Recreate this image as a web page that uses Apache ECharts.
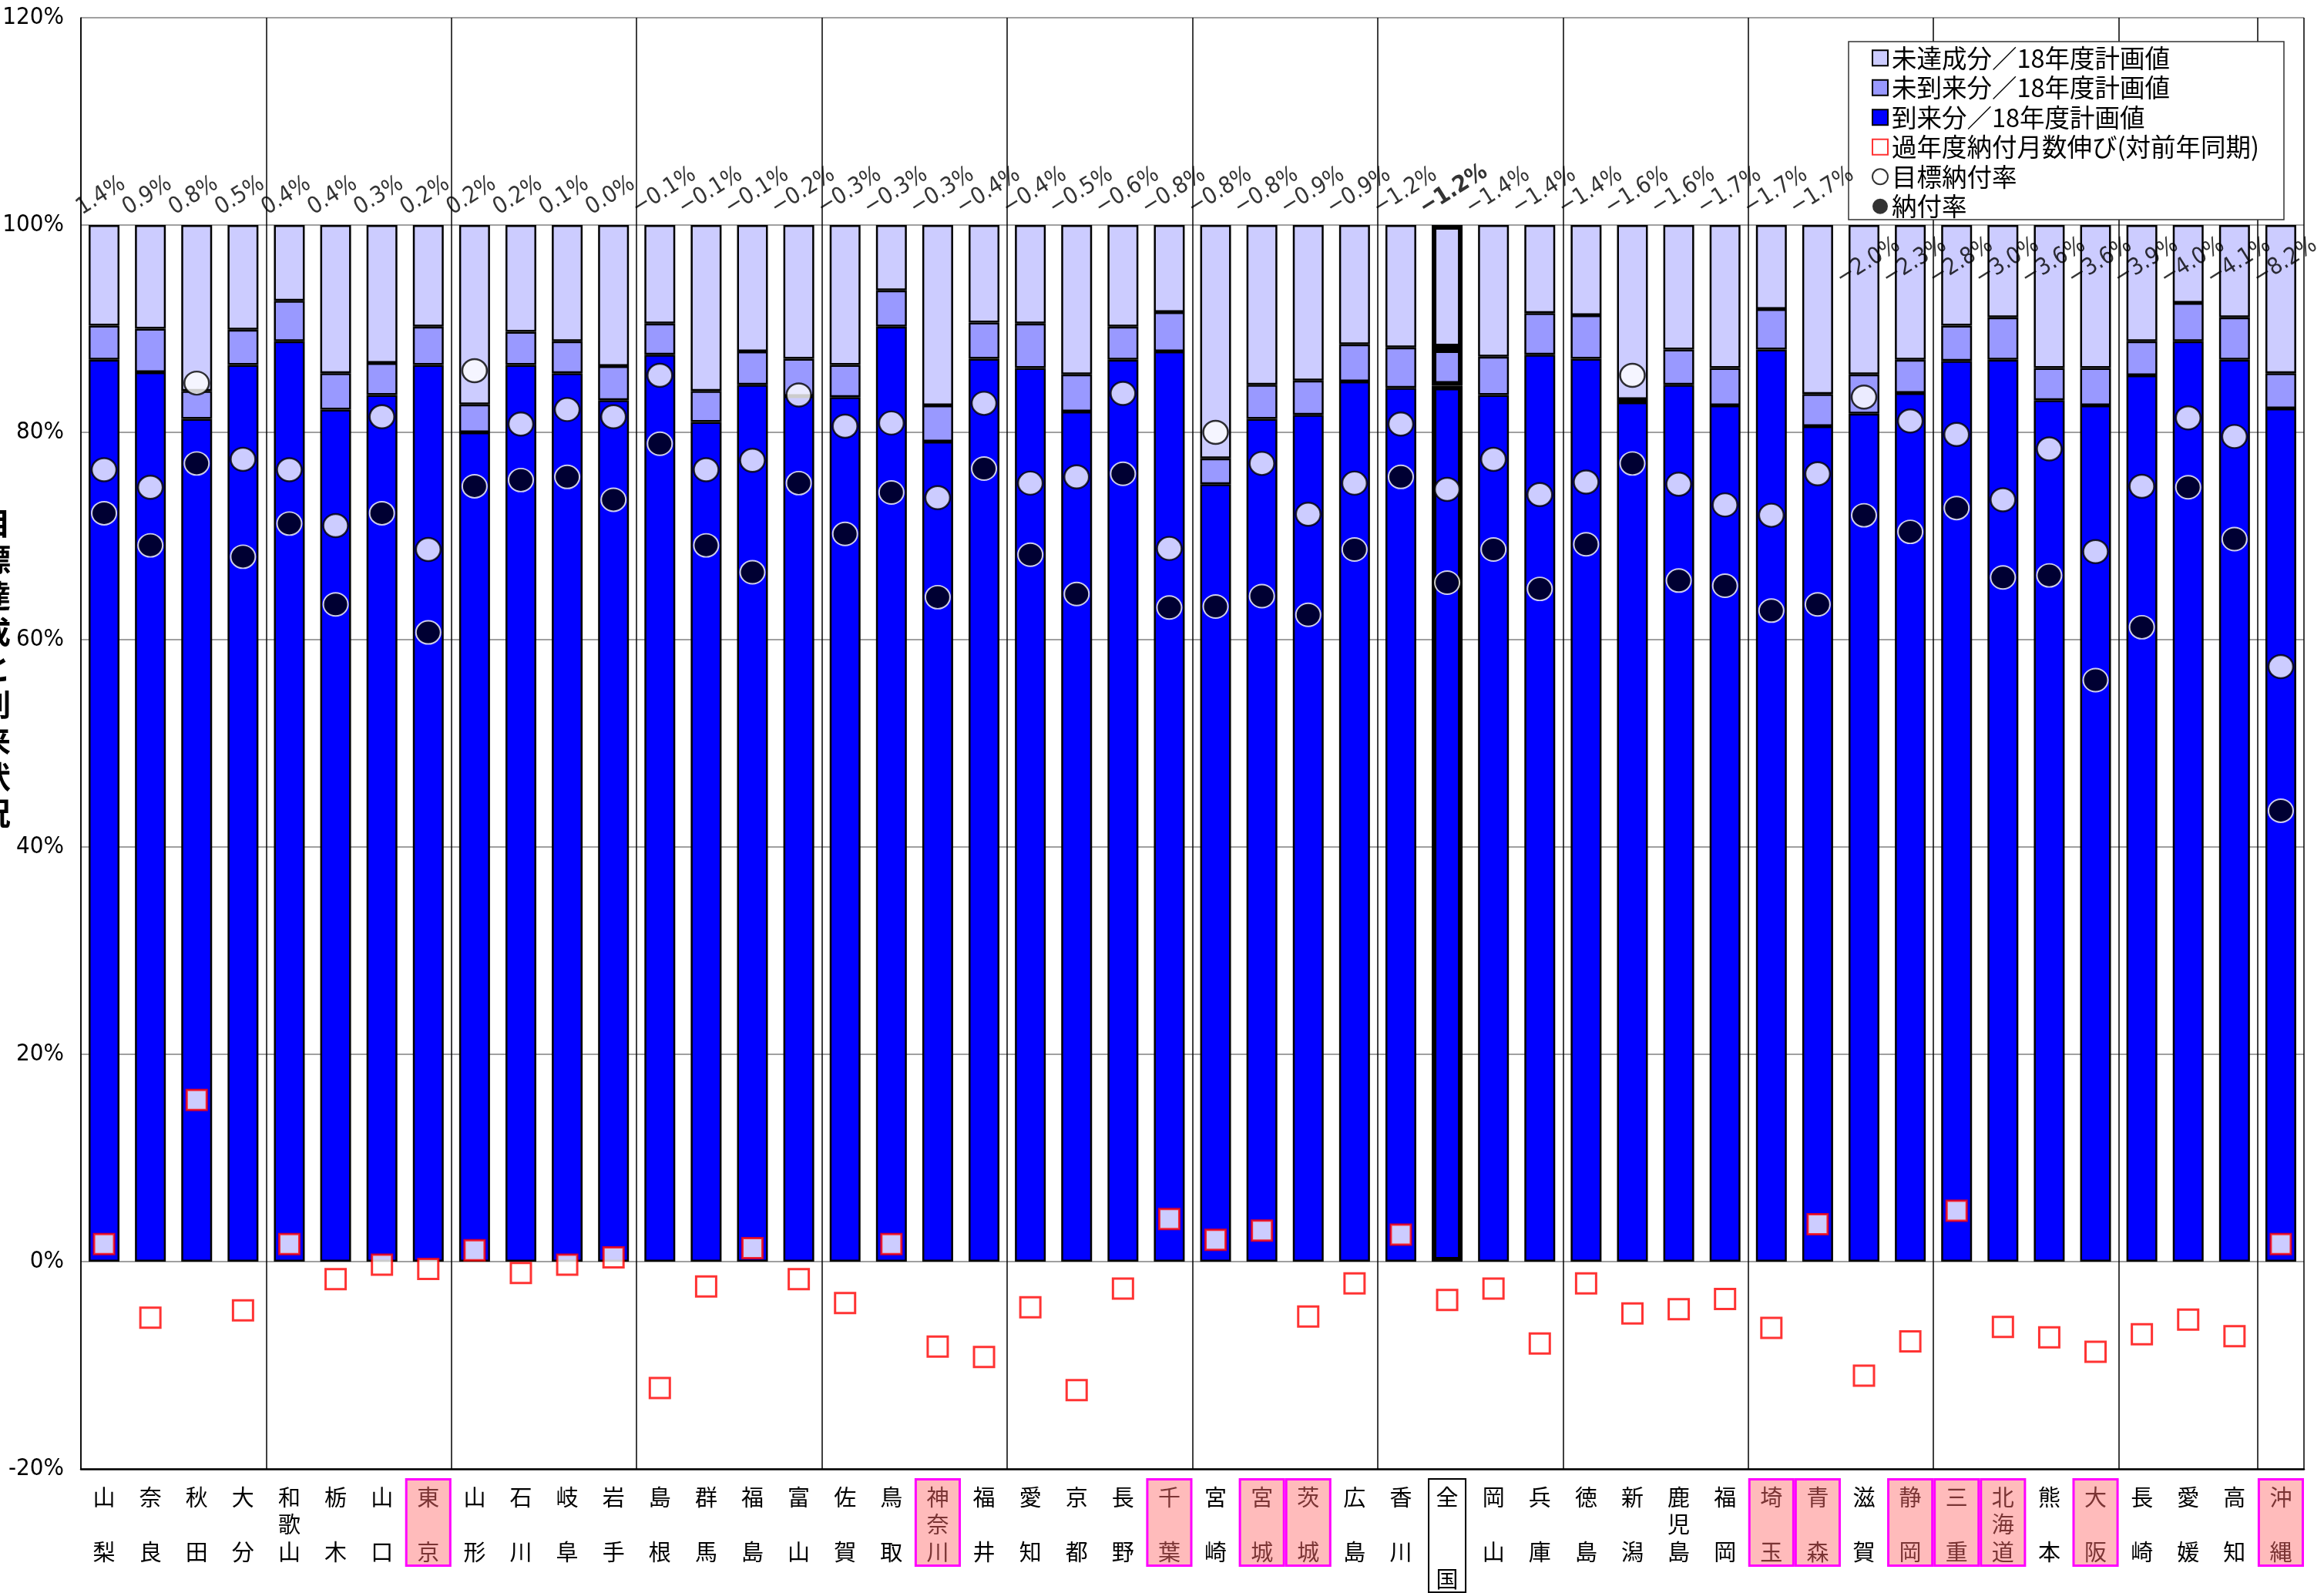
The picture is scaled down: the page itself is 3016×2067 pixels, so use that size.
<!DOCTYPE html>
<html><head><meta charset="utf-8">
<script src="https://cdn.jsdelivr.net/npm/echarts@6/dist/echarts.min.js"></script>
<style>html,body{margin:0;padding:0;background:#fff}#c{width:3016px;height:2067px}</style>
</head><body><div id="c"></div>
<script>
const categories = ['山梨','奈良','秋田','大分','和歌山','栃木','山口','東京','山形','石川','岐阜','岩手','島根','群馬','福島','富山','佐賀','鳥取','神奈川','福井','愛知','京都','長野','千葉','宮崎','宮城','茨城','広島','香川','全国','岡山','兵庫','徳島','新潟','鹿児島','福岡','埼玉','青森','滋賀','静岡','三重','北海道','熊本','大阪','長崎','愛媛','高知','沖縄'];
// 到来分／18年度計画値 (%)
const arrived = [87.0,85.8,81.3,86.5,88.8,82.2,83.6,86.5,80.0,86.5,85.7,83.1,87.5,81.0,84.6,83.5,83.4,90.2,79.1,87.1,86.2,82.0,87.0,87.8,75.0,81.3,81.7,84.9,84.3,84.5,83.6,87.5,87.1,82.9,84.6,82.6,88.0,80.6,81.8,83.8,86.9,87.0,83.1,82.6,85.5,88.8,87.0,82.3];
// 未到来分／18年度計画値 (%)
const notArrived = [3.3,4.2,2.7,3.4,3.9,3.5,3.1,3.7,2.7,3.2,3.1,3.3,3.0,3.0,3.2,3.6,3.1,3.5,3.5,3.5,4.3,3.6,3.2,3.8,2.5,3.3,3.3,3.6,3.9,3.6,3.7,4.0,4.2,0.3,3.4,3.6,3.9,3.1,3.8,3.2,3.4,4.1,3.1,3.6,3.3,3.7,4.1,3.4];
// 未達成分／18年度計画値 (%)
const notAchieved = [9.7,10.0,16.0,10.1,7.3,14.3,13.3,9.8,17.3,10.3,11.2,13.6,9.5,16.0,12.2,12.9,13.5,6.3,17.4,9.4,9.5,14.4,9.8,8.4,22.5,15.4,15.0,11.5,11.8,11.9,12.7,8.5,8.7,16.8,12.0,13.8,8.1,16.3,14.4,13.0,9.7,8.9,13.8,13.8,11.2,7.5,8.9,14.3];
// 過年度納付月数伸び（対前年同期）(%)
const pastYearGrowth = [1.7,-5.4,15.6,-4.7,1.7,-1.7,-0.3,-0.7,1.1,-1.1,-0.3,0.4,-12.2,-2.4,1.3,-1.7,-4.0,1.7,-8.2,-9.2,-4.4,-12.4,-2.6,4.1,2.1,3.0,-5.3,-2.1,2.6,-3.7,-2.6,-7.9,-2.1,-5.0,-4.6,-3.6,-6.4,3.6,-11.0,-7.7,4.9,-6.3,-7.3,-8.7,-7.0,-5.6,-7.2,1.7];
// 目標納付率 (%)
const targetRate = [76.4,74.7,84.75,77.4,76.4,71.0,81.5,68.7,85.95,80.8,82.2,81.5,85.5,76.4,77.3,83.6,80.6,80.9,73.7,82.8,75.1,75.7,83.75,68.8,80.0,77.0,72.1,75.1,80.8,74.5,77.4,74.0,75.2,85.5,75.0,73.0,72.0,76.0,83.4,81.1,79.8,73.5,78.4,68.5,74.8,81.4,79.6,57.4];
// 納付率 (%)
const paymentRate = [72.2,69.1,77.0,68.0,71.2,63.4,72.2,60.7,74.8,75.4,75.7,73.5,78.9,69.1,66.5,75.1,70.2,74.2,64.1,76.5,68.2,64.4,76.0,63.1,63.2,64.2,62.4,68.7,75.7,65.5,68.7,64.9,69.2,77.0,65.7,65.2,62.8,63.4,72.0,70.4,72.7,66.0,66.2,56.1,61.2,74.7,69.7,43.5];
// 納付率伸び (labels above bars)
const changeValues = [1.4,0.9,0.8,0.5,0.4,0.4,0.3,0.2,0.2,0.2,0.1,0.0,-0.1,-0.1,-0.1,-0.2,-0.3,-0.3,-0.3,-0.4,-0.4,-0.5,-0.6,-0.8,-0.8,-0.8,-0.9,-0.9,-1.2,-1.2,-1.4,-1.4,-1.4,-1.6,-1.6,-1.7,-1.7,-1.7,-2.0,-2.3,-2.8,-3.0,-3.6,-3.6,-3.9,-4.0,-4.1,-8.2];
const highlighted = ['東京','神奈川','千葉','宮城','茨城','埼玉','青森','静岡','三重','北海道','大阪','沖縄'];
const nationalName = '全国';
const yTicks = {min:-20, max:120, interval:20};

const NARROW = "'Liberation Sans Narrow','Arial Narrow','DejaVu Sans Condensed',sans-serif";
const JP = "'Noto Sans CJK JP','Noto Sans CJK SC',sans-serif";
const natIdx = categories.indexOf(nationalName);
const insideFrom = 38;      // labels placed inside the bars (under the legend)
const insideLevel = 93.2;

function catLabel(name){
  const ch = Array.from(name);
  let lines;
  if (name === nationalName) lines = [ch[0], '　', '　', ch[1]];
  else if (ch.length === 2) lines = [ch[0], '　', ch[1]];
  else lines = ch;
  if (highlighted.includes(name)) return lines.map(l => '{h|' + l + '}').join('\n');
  return lines.join('\n');
}
function fmtPct(v){
  const s = Math.abs(v).toFixed(1) + '%';
  return (v < 0 ? '−' : '') + s;
}
const barBase = {color:'#000', borderColor:'#000', borderWidth:2.5};
function barData(arr){
  return arr.map((v,i) => i === natIdx ? {value:v, itemStyle:{borderWidth:6}} : v);
}

const chart = echarts.init(document.getElementById('c'), null, {renderer:'canvas'});
const option = {
  animation:false,
  backgroundColor:'#fff',
  grid:[
    {left:105, right:26, top:23, bottom:161, containLabel:false},
    {left:105, right:26, top:1918, height:149, containLabel:false}
  ],
  legend:{
    left:2399, top:54, orient:'vertical', z:21,
    backgroundColor:'transparent', borderWidth:0,
    padding:[5, 26, 5, 30], itemGap:6, itemWidth:20, itemHeight:20,
    textStyle:{fontSize:32.5, lineHeight:32.5, fontFamily:JP, color:'#000'},
    data:[
      {name:'未達成分／18年度計画値', icon:'rect'},
      {name:'未到来分／18年度計画値', icon:'rect'},
      {name:'到来分／18年度計画値', icon:'rect'},
      {name:'過年度納付月数伸び(対前年同期)', icon:'rect'},
      {name:'目標納付率', icon:'circle'},
      {name:'納付率', icon:'circle', itemStyle:{borderWidth:0}}
    ]
  },
  xAxis:[
    {type:'category', gridIndex:0, data:categories, z:10,
      axisLine:{show:true, onZero:false, lineStyle:{color:'#000', width:2.5}},
      axisTick:{show:false},
      axisLabel:{interval:0, margin:19, fontSize:29, lineHeight:35.5, color:'#000', fontFamily:JP,
        verticalAlign:'top', formatter:catLabel,
        rich:{h:{color:'#7a3434', fontSize:29, lineHeight:35.5, fontFamily:JP}}},
      splitLine:{show:true, interval:3, lineStyle:{color:'#000', width:1.5}}
    },
    {type:'category', gridIndex:1, data:categories, show:false},
    {type:'category', gridIndex:1, data:categories, show:false}
  ],
  yAxis:[
    {type:'value', gridIndex:0, min:yTicks.min, max:yTicks.max, interval:yTicks.interval,
      axisLine:{show:true, lineStyle:{color:'#000', width:1.5}},
      axisTick:{show:false},
      axisLabel:{formatter:'{value}%', fontSize:31, fontFamily:NARROW, color:'#000', margin:22},
      splitLine:{show:true, lineStyle:{color:'#808080', width:1.5}}
    },
    {type:'value', gridIndex:1, min:0, max:149, inverse:true, show:false}
  ],
  graphic:[
    {type:'text', left:-26, top:655, z:100,
      style:{text:'目\n標\n達\n成\nと\n到\n来\n状\n況', font:'bold 40px ' + JP, lineHeight:47, fill:'#000'}},
    {type:'rect', z:20, silent:true,
      shape:{x:2399, y:54, width:565, height:231},
      style:{fill:'#fff', stroke:'#333', lineWidth:1.5}}
  ],
  series:[
    {name:'到来分／18年度計画値', type:'bar', stack:'total', xAxisIndex:0, yAxisIndex:0, barWidth:40,
      itemStyle:Object.assign({}, barBase, {color:'#0000FF'}), data:barData(arrived)},
    {name:'未到来分／18年度計画値', type:'bar', stack:'total', xAxisIndex:0, yAxisIndex:0, barWidth:40,
      itemStyle:Object.assign({}, barBase, {color:'#9999FF'}), data:barData(notArrived)},
    {name:'未達成分／18年度計画値', type:'bar', stack:'total', xAxisIndex:0, yAxisIndex:0, barWidth:40,
      itemStyle:Object.assign({}, barBase, {color:'#CCCCFF'}), data:barData(notAchieved)},
    {name:'過年度納付月数伸び(対前年同期)', type:'scatter', xAxisIndex:0, yAxisIndex:0,
      symbol:'rect', symbolSize:26, z:4,
      itemStyle:{color:'#fff', borderColor:'#FF0000', borderWidth:3}, data:pastYearGrowth},
    {name:'目標納付率', type:'scatter', xAxisIndex:0, yAxisIndex:0,
      symbol:'circle', symbolSize:[32,30], z:5,
      itemStyle:{color:'#fff', borderColor:'#000', borderWidth:2.5}, data:targetRate},
    {name:'納付率', type:'scatter', xAxisIndex:0, yAxisIndex:0,
      symbol:'circle', symbolSize:[32,30], z:6,
      itemStyle:{color:'#000', borderColor:'#fff', borderWidth:2}, data:paymentRate},
    {name:'labels', type:'scatter', xAxisIndex:0, yAxisIndex:0, symbolSize:0, silent:true, z:22,
      data:changeValues.map((v,i) => ({
        value:[categories[i], i >= insideFrom ? insideLevel : 100],
        label: i === natIdx ? {fontWeight:'bold'} : undefined
      })),
      label:{show:true, position:[-25,-7], align:'left', verticalAlign:'bottom', rotate:32,
        fontSize:30, fontFamily:NARROW, color:'#000',
        formatter:p => fmtPct(changeValues[p.dataIndex])}
    },
    {name:'highlight', type:'bar', xAxisIndex:1, yAxisIndex:1, barWidth:'100%', silent:true, z:1,
      data:categories.map(n => highlighted.includes(n)
        ? {value:115, itemStyle:{color:'#FFBBBB', borderColor:'#FF00FF', borderWidth:3}} : '-')},
    {name:'nationalBox', type:'bar', xAxisIndex:2, yAxisIndex:1, barWidth:50, silent:true, z:1,
      data:categories.map(n => n === nationalName
        ? {value:149, itemStyle:{color:'#fff', borderColor:'#000', borderWidth:2}} : '-')}
  ]
};
chart.setOption(option);
</script>
</body></html>
